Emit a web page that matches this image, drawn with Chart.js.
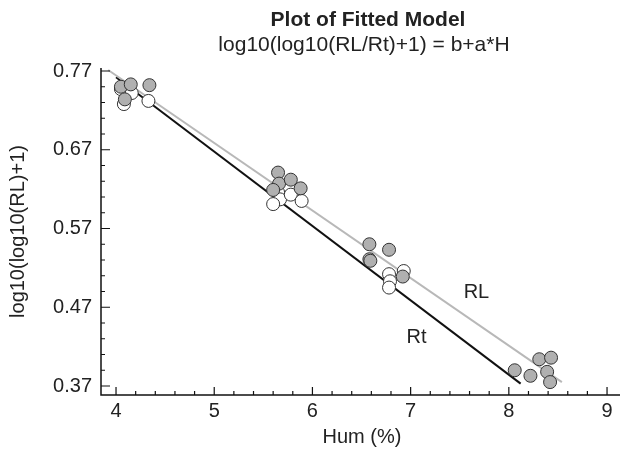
<!DOCTYPE html>
<html>
<head>
<meta charset="utf-8">
<script src="https://cdn.jsdelivr.net/npm/chart.js@4.4.1/dist/chart.umd.min.js"></script>
<style>
  html,body{margin:0;padding:0;background:#fff;overflow:hidden;}
  canvas{display:block;}
</style>
</head>
<body>
<canvas id="chart" width="620" height="457"></canvas>
<script>
// RL points (grey) and Rt points (white)
const rlHum = [4.05,4.15,4.34,4.09, 5.65,5.66,5.78,5.88,5.60, 6.58,6.78,6.58,6.59,6.92, 8.31,8.43,8.06,8.22,8.39,8.42];
const rlVal = [0.750,0.753,0.752,0.734, 0.641,0.627,0.632,0.621,0.619, 0.550,0.543,0.531,0.529,0.509, 0.404,0.406,0.390,0.383,0.388,0.375];
const rtHum = [4.05,4.16,4.08,4.33, 5.65,5.67,5.78,5.89,5.60, 6.78,6.93,6.79,6.78];
const rtVal = [0.747,0.742,0.728,0.732, 0.616,0.607,0.613,0.605,0.601, 0.512,0.516,0.503,0.495];

// fitted lines (ends)
const rlFitHum = [3.92, 8.54];
const rlFitVal = [0.7713, 0.375];
const rtFitHum = [4.00, 8.12];
const rtFitVal = [0.762, 0.373];

const xTicks = [4,5,6,7,8,9];
const yTicks = [0.37,0.47,0.57,0.67,0.77];
const xMinorStep = 0.2, yMinorStep = 0.02;

const lineLabels = [
  {text:'RL', x:7.67, y:0.489},
  {text:'Rt', x:7.06, y:0.432}
];

function pts(xs, ys){ return xs.map((x,i)=>({x:x, y:ys[i]})); }

const FONT = '"Liberation Sans", Arial, sans-serif';

// axes drawn inward like the original, plus titles
const decor = {
  id:'decor',
  afterDraw(chart){
    const ctx = chart.ctx, a = chart.chartArea;
    const xs = chart.scales.x, ys = chart.scales.y;
    ctx.save();
    ctx.strokeStyle = '#111'; ctx.lineWidth = 1.5;
    ctx.beginPath();
    ctx.moveTo(a.left, a.top); ctx.lineTo(a.left, a.bottom); ctx.lineTo(a.right, a.bottom);
    ctx.stroke();

    ctx.lineWidth = 1.2;
    ctx.beginPath();
    for (let v = 3.8; v <= xs.max + 1e-9; v += xMinorStep){
      if (v < xs.min) continue;
      const px = xs.getPixelForValue(v);
      const major = xTicks.some(t=>Math.abs(t-v)<1e-6);
      ctx.moveTo(px, a.bottom); ctx.lineTo(px, a.bottom - (major?8:4));
    }
    for (let v = 0.35; v <= ys.max + 1e-9; v += yMinorStep){
      if (v < ys.min) continue;
      const py = ys.getPixelForValue(v);
      const major = yTicks.some(t=>Math.abs(t-v)<1e-6);
      ctx.moveTo(a.left, py); ctx.lineTo(a.left + (major?9:4), py);
    }
    ctx.stroke();

    ctx.fillStyle = '#222';
    ctx.font = '20px ' + FONT;
    ctx.textAlign = 'center'; ctx.textBaseline = 'middle';
    xTicks.forEach(t=>{ ctx.fillText(String(t), xs.getPixelForValue(t), 411); });
    ctx.textAlign = 'right';
    yTicks.forEach(t=>{ ctx.fillText(t.toFixed(2), 92, ys.getPixelForValue(t)); });

    ctx.textAlign = 'center';
    ctx.fillText('Hum (%)', 362, 437);
    ctx.save();
    ctx.translate(18, (a.top+a.bottom)/2);
    ctx.rotate(-Math.PI/2);
    ctx.fillText('log10(log10(RL)+1)', 0, 0);
    ctx.restore();

    lineLabels.forEach(l=>{
      ctx.fillText(l.text, xs.getPixelForValue(l.x), ys.getPixelForValue(l.y));
    });

    ctx.font = 'bold 21px ' + FONT;
    ctx.fillText('Plot of Fitted Model', 368, 20);
    ctx.font = '21px ' + FONT;
    ctx.fillText('log10(log10(RL/Rt)+1) = b+a*H', 364, 45);
    ctx.restore();
  }
};

new Chart(document.getElementById('chart'), {
  type:'scatter',
  data:{
    datasets:[
      {label:'RL', data:pts(rlHum, rlVal), order:0, pointRadius:6.5, pointHoverRadius:6.5,
       backgroundColor:'#b0b0b0', borderColor:'#333', borderWidth:1},
      {label:'Rt', data:pts(rtHum, rtVal), order:1, pointRadius:6.5, pointHoverRadius:6.5,
       backgroundColor:'#fff', borderColor:'#333', borderWidth:1},
      {label:'RL fit', data:pts(rlFitHum, rlFitVal), order:2, showLine:true, pointRadius:0,
       borderColor:'#b8b8b8', borderWidth:2},
      {label:'Rt fit', data:pts(rtFitHum, rtFitVal), order:3, showLine:true, pointRadius:0,
       borderColor:'#111', borderWidth:2}
    ]
  },
  options:{
    responsive:false, animation:false,
    layout:{autoPadding:false, padding:{left:101, right:0, top:68, bottom:62}},
    plugins:{legend:{display:false}, tooltip:{enabled:false}},
    scales:{
      x:{type:'linear', display:false, min:3.847, max:9.132},
      y:{type:'linear', display:false, min:0.3586, max:0.7738}
    }
  },
  plugins:[decor]
});
</script>
</body>
</html>
